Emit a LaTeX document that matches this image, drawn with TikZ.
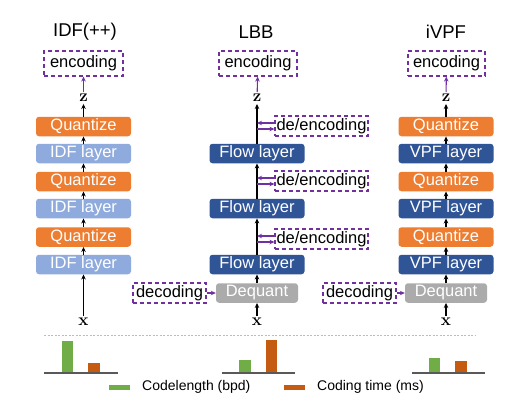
\documentclass[tikz,border=0pt]{standalone}
\usepackage{fontspec}
\newfontfamily\arial{Liberation Sans}
\usetikzlibrary{arrows.meta,calc}
\definecolor{qorange}{HTML}{ED7D31}
\definecolor{idfblue}{HTML}{8FAADC}
\definecolor{flowblue}{HTML}{2F5597}
\definecolor{dqgray}{HTML}{ABABAB}
\definecolor{dpurple}{HTML}{7030A0}
\definecolor{bgreen}{HTML}{70AD47}
\definecolor{borange}{HTML}{C55A11}
\definecolor{sepblue}{HTML}{9DC3E6}
\definecolor{axisgray}{HTML}{595959}
\tikzset{
  boxfont/.style={font=\arial\fontsize{16.5}{18}\selectfont},
  layerbox/.style={boxfont, rounded corners=3pt, minimum width=95pt, minimum height=19.5pt, inner sep=0pt, text=white},
  quant/.style={layerbox, fill=qorange},
  idf/.style={layerbox, fill=idfblue},
  flow/.style={layerbox, fill=flowblue},
  deq/.style={layerbox, fill=dqgray, minimum width=82pt},
  codebox/.style={boxfont, draw=dpurple, dash pattern=on 4pt off 3pt, line width=1.1pt, inner sep=0pt, text=black},
  titlelab/.style={font=\arial\fontsize{18.5}{20}\selectfont},
  varlab/.style={font=\fontsize{17}{18}\selectfont\bfseries, inner sep=2pt},
  barr/.style={-{Stealth[length=5pt,width=4.5pt]}, line width=1.2pt, black},
  parr/.style={-{Stealth[length=5pt,width=4.5pt]}, line width=1.1pt, dpurple},
  legfont/.style={font=\arial\fontsize{14}{16}\selectfont},
}
\begin{document}
\begin{tikzpicture}[x=1pt,y=-1pt]
\useasboundingbox (0,0) rectangle (529,400);
% ---------- IDF(++) ----------
\node[titlelab] (t1) at (85,32) {IDF(++)};
\node[codebox, minimum width=79pt, minimum height=25pt] (e1) at (83.5,63.5) {encoding};
\node[varlab] (z1) at (83.5,98) {z};
\node[quant] (q1a) at (83.5,126.5) {Quantize};
\node[idf]   (i1a) at (83.5,153.5) {IDF layer};
\node[quant] (q1b) at (83.5,181.5) {Quantize};
\node[idf]   (i1b) at (83.5,208.5) {IDF layer};
\node[quant] (q1c) at (83.5,237) {Quantize};
\node[idf]   (i1c) at (83.5,264.5) {IDF layer};
\node[varlab] (x1) at (83.5,322) {x};
\draw[barr] (x1) -- (i1c);
\draw[barr] (i1c) -- (q1c);
\draw[barr] (q1c) -- (i1b);
\draw[barr] (i1b) -- (q1b);
\draw[barr] (q1b) -- (i1a);
\draw[barr] (i1a) -- (q1a);
\draw[barr] (q1a) -- (z1);
\draw[parr] (z1) -- (e1);
% ---------- LBB ----------
\node[titlelab] (t2) at (256,32) {LBB};
\node[codebox, minimum width=78pt, minimum height=25pt] (e2) at (258,63.5) {encoding};
\node[varlab] (z2) at (257,98) {z};
\node[codebox, minimum width=93pt, minimum height=20pt] (de1) at (321.5,126) {de/encoding};
\node[flow] (f1) at (257,153.5) {Flow layer};
\node[codebox, minimum width=93pt, minimum height=20pt] (de2) at (321.5,181) {de/encoding};
\node[flow] (f2) at (257,208.5) {Flow layer};
\node[codebox, minimum width=93pt, minimum height=20pt] (de3) at (321.5,239) {de/encoding};
\node[flow] (f3) at (257,264.5) {Flow layer};
\node[deq] (dq2) at (257,293) {Dequant};
\node[codebox, minimum width=73pt, minimum height=20pt] (dc2) at (169.5,293) {decoding};
\node[varlab] (x2) at (257,322) {x};
\draw[barr] (x2) -- (dq2);
\draw[barr] (dq2) -- (f3);
\draw[barr] (f3) -- (f2);
\draw[barr] (f2) -- (f1);
\draw[barr] (f1) -- (z2);
\draw[parr] (z2) -- (e2);
\draw[parr] (dc2) -- (dq2);
\foreach \d in {de1,de2,de3}{
  \draw[parr] ([yshift=3pt]\d.west) -- ([yshift=3pt]\d.west -| z2);
  \draw[parr] ([yshift=-3pt]\d.west -| z2) -- ([yshift=-3pt]\d.west);
}
% ---------- iVPF ----------
\node[titlelab] (t3) at (446,32) {iVPF};
\node[codebox, minimum width=77pt, minimum height=25pt] (e3) at (446.5,63.5) {encoding};
\node[varlab] (z3) at (446,98) {z};
\node[quant] (q3a) at (446,126.5) {Quantize};
\node[flow]  (v3a) at (446,153.5) {VPF layer};
\node[quant] (q3b) at (446,181.5) {Quantize};
\node[flow]  (v3b) at (446,208.5) {VPF layer};
\node[quant] (q3c) at (446,237) {Quantize};
\node[flow]  (v3c) at (446,264.5) {VPF layer};
\node[deq] (dq3) at (446,293) {Dequant};
\node[codebox, minimum width=73pt, minimum height=20pt] (dc3) at (359.5,293) {decoding};
\node[varlab] (x3) at (446,322) {x};
\draw[barr] (x3) -- (dq3);
\draw[barr] (dq3) -- (v3c);
\draw[barr] (v3c) -- (q3c);
\draw[barr] (q3c) -- (v3b);
\draw[barr] (v3b) -- (q3b);
\draw[barr] (q3b) -- (v3a);
\draw[barr] (v3a) -- (q3a);
\draw[barr] (q3a) -- (z3);
\draw[parr] (z3) -- (e3);
\draw[parr] (dc3) -- (dq3);
% ---------- separator ----------
\draw[sepblue, line width=0.6pt, dash pattern=on 2pt off 1.5pt] (44,335) -- (475,335);
% ---------- bar charts ----------
\fill[bgreen] (62,341) rectangle (73,373);
\fill[borange] (88,363) rectangle (100,373);
\draw[axisgray, line width=1.2pt] (44,373) -- (118,373);
\fill[bgreen] (239,360) rectangle (251,373);
\fill[borange] (266,340) rectangle (277,373);
\draw[axisgray, line width=1.2pt] (222,373) -- (295,373);
\fill[bgreen] (429,358) rectangle (440,373);
\fill[borange] (455,361) rectangle (467,373);
\draw[axisgray, line width=1.2pt] (412,373) -- (485,373);
% ---------- legend ----------
\draw[bgreen, line width=5pt] (109,387) -- (130,387);
\node[legfont, anchor=west, inner sep=0pt] (lg1) at (142,387) {Codelength (bpd)};
\draw[borange, line width=5pt] (284,387) -- (305,387);
\node[legfont, anchor=west, inner sep=0pt] (lg2) at (317,387) {Coding time (ms)};
\end{tikzpicture}
\end{document}
